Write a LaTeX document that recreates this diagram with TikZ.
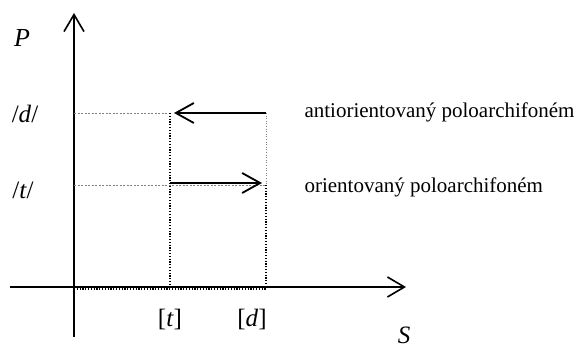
\documentclass[tikz,border=0pt]{standalone}
\usepackage{fontspec}
\setmainfont{Liberation Serif}
\usepackage{tikz}
\usetikzlibrary{arrows.meta}
\tikzset{
  axis/.style={line width=1.8pt,-{Straight Barb[length=17pt,width=20pt,line width=1.6pt]}},
  phonarrow/.style={line width=2.2pt,-{Straight Barb[length=18pt,width=20pt,line width=1.8pt]}},
  guide/.style={gray,line width=0.6pt,dash pattern=on 2pt off 1.5pt},
  guidedot/.style={gray,line width=0.6pt,dotted},
  drop/.style={line width=1.1pt,dash pattern=on 1.2pt off 1.6pt},
  lbl/.style={font=\fontsize{25}{30}\selectfont,anchor=base},
  txt/.style={font=\fontsize{21}{25}\selectfont,anchor=base west}
}

\begin{document}
\begin{tikzpicture}[x=1pt,y=-1pt]
  \useasboundingbox (0,0) rectangle (578,347);
  % axes
  \coordinate (O) at (74,287);
  \coordinate (Ytop) at (74,13);
  \coordinate (Ybot) at (74,337);
  \coordinate (Xleft) at (10,287);
  \coordinate (Xright) at (406,287);
  \draw[axis] (Ybot)--(Ytop);
  \draw[axis] (Xleft)--(Xright);
  % levels
  \coordinate (dP) at (74,113);
  \coordinate (tP) at (74,185);
  \coordinate (dTop) at (266,113);
  \coordinate (tTop) at (170,113);
  \coordinate (dMid) at (266,185);
  \coordinate (tMid) at (170,185);
  \coordinate (tS) at (170,287);
  \coordinate (dS) at (266,287);
  \draw[guide] (dP)--(tTop);
  \draw[guide] (tP)--(dMid);
  \draw[guidedot] (dTop)--(dMid);
  \draw[drop] (tTop)--(tS);
  \draw[drop] (dMid)--(dS);
  \draw[drop] ([yshift=-2pt]O)--([yshift=-2pt]dS);
  % arrows
  \draw[phonarrow] (dTop)--([xshift=4pt]tTop);
  \draw[phonarrow] ([yshift=2pt]tMid)--([xshift=-4pt,yshift=2pt]dMid);
  % labels
  \node[lbl,font=\fontsize{26}{30}\selectfont] (P) at (22,47) {\textit{P}};
  \node[lbl] (dlab) at (25,123) {/\textit{d}/};
  \node[lbl] (tlab) at (23,199) {/\textit{t}/};
  \node[lbl] (tSlab) at (170,326) {[\textit{t}]};
  \node[lbl] (dSlab) at (252,326) {[\textit{d}]};
  \node[lbl] (S) at (404,343) {\textit{S}};
  \node[txt] (anti) at (301,118) {antiorientovaný poloarchifoném};
  \node[txt] (orient) at (301,193) {orientovaný poloarchifoném};
\end{tikzpicture}
\end{document}
